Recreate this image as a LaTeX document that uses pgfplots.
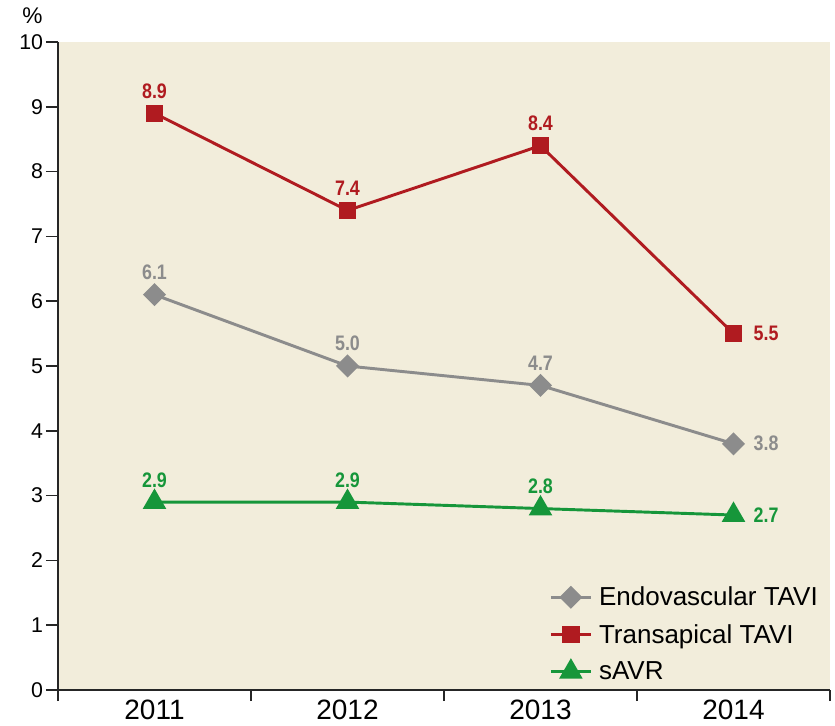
\documentclass[border=0pt]{standalone}
\usepackage{pgfplots}
\pgfplotsset{compat=1.18}
\usepackage{fontspec}
\setmainfont{Liberation Sans}
\newfontfamily\labfont[FakeStretch=0.85]{Liberation Sans}
\definecolor{bgcol}{RGB}{242,237,219}
\definecolor{cred}{RGB}{176,27,32}
\definecolor{cgray}{RGB}{140,140,140}
\definecolor{cgreen}{RGB}{22,150,58}
\pgfplotsset{
  lbl/.style={
    point meta=y,
    nodes near coords={\labfont\bfseries\pgfmathprintnumber[fixed,fixed zerofill,precision=1,assume math mode=true]{\pgfplotspointmeta}},
    every node near coord/.append style={inner xsep=14pt, inner ysep=10pt, font=\fontsize{15.75}{18}\selectfont, text=#1},
    coordinate style/.condition={\coordindex<3}{anchor=south},
    coordinate style/.condition={\coordindex>2}{anchor=west},
  }
}
\begin{document}
\begin{tikzpicture}
\begin{axis}[
  scale only axis,
  width=579pt, height=486pt,
  xmin=-0.5, xmax=3.5, ymin=0, ymax=10,
  axis x line=bottom, axis y line=left,
  axis line style={-, line width=1.5pt, color=black!85},
  axis background/.style={fill=bgcol},
  /pgf/number format/assume math mode=true,
  xtick={0,1,2,3},
  xticklabels={2011,2012,2013,2014},
  minor xtick={-0.5,0.5,1.5,2.5,3.5},
  ytick={0,1,...,10},
  tick align=outside,
  major tick length=9pt,
  minor tick length=8.25pt,
  major x tick style={draw=none},
  minor x tick style={line width=1.2pt, black!85},
  major y tick style={line width=1.2pt, black!85},
  xticklabel style={font=\fontsize{21}{24}\selectfont, yshift=5pt},
  yticklabel style={font=\fontsize{16}{18}\selectfont, inner sep=2pt},
  ylabel={\%},
  every axis y label/.style={at={(rel axis cs:0,1)}, anchor=south east, xshift=-8pt, yshift=10pt, font=\fontsize{17}{20}\selectfont},
  clip=false,
  legend style={at={(rel axis cs:1,0)}, anchor=south east, xshift=-4pt, yshift=2pt, draw=none, fill=none, font=\fontsize{19.5}{22}\selectfont, row sep=8.5pt},
  legend cell align=left,
  /tikz/every odd column/.append style={column sep=3pt},
  legend image code/.code={\draw[mark repeat=2,mark phase=2] plot coordinates {(0pt,0pt) (15pt,0pt) (30pt,0pt)};},
]
\addplot[cgray, line width=2.2pt, mark=square*, mark size=5pt, mark options={rotate=45, solid}, lbl=cgray] coordinates {(0,6.1) (1,5.0) (2,4.7) (3,3.8)};
\addlegendentry{Endovascular TAVI}
\addplot[cred, line width=2.2pt, mark=square*, mark size=5.4pt, mark options={solid}, lbl=cred] coordinates {(0,8.9) (1,7.4) (2,8.4) (3,5.5)};
\addlegendentry{Transapical TAVI}
\addplot[cgreen, line width=2.2pt, mark=triangle*, mark size=8pt, mark options={solid}, lbl=cgreen] coordinates {(0,2.9) (1,2.9) (2,2.8) (3,2.7)};
\addlegendentry{sAVR}
\end{axis}
\pgfresetboundingbox
\path (-43.5pt,-26.25pt) rectangle (582.75pt,517.5pt);
\end{tikzpicture}
\end{document}
